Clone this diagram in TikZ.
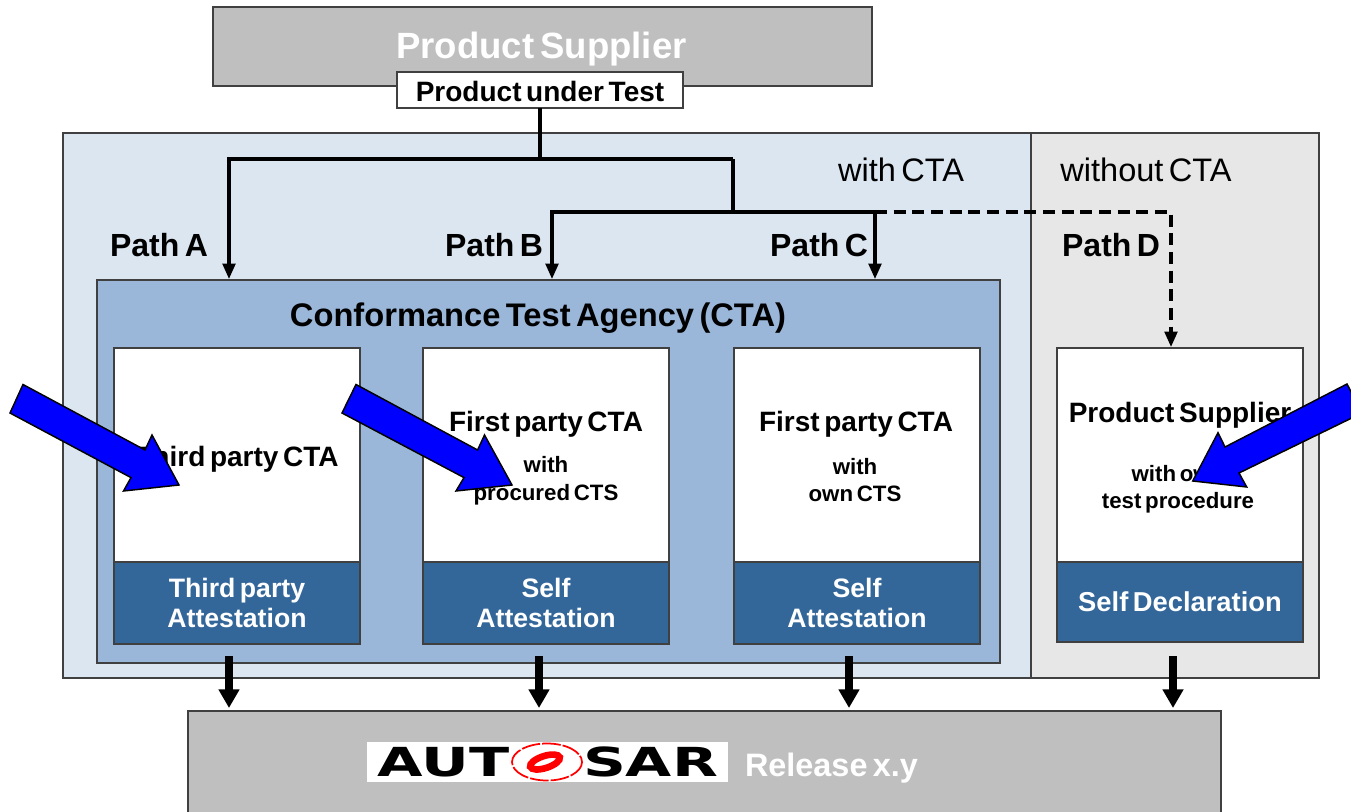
\documentclass[tikz,border=0pt]{standalone}
\usepackage{fontspec}
\setmainfont[WordSpace=0.6]{Liberation Sans}
\newfontfamily\logofont{DejaVu Sans}[BoldFont={DejaVu Sans Bold}]
\usetikzlibrary{arrows.meta}
\def\un{0.75pt}
\newcommand{\fs}[1]{\fontsize{#1}{#1}\selectfont}
\definecolor{cLight}{HTML}{DCE6F1}
\definecolor{cGrayL}{HTML}{E7E7E7}
\definecolor{cMid}{HTML}{9AB6D8}
\definecolor{cDark}{HTML}{336699}
\definecolor{cGray}{HTML}{BFBFBF}
\definecolor{cEdge}{HTML}{404040}
\tikzset{
  box/.style={draw=cEdge,line width=1pt,inner sep=0pt,outer sep=0pt},
  whitebox/.style={box,fill=white},
  darkbox/.style={box,fill=cDark,text=white,align=center,font=\bfseries\fs{20}},
  pathlabel/.style={inner sep=0pt,font=\bfseries\fs{24}},
  zonelabel/.style={inner sep=0pt,font=\fs{24.4}},
  title/.style={inner sep=0pt,font=\bfseries\fs{21}},
  sub/.style={inner sep=0pt,align=center,font=\bfseries\fs{16.7}},
  flowhead/.style={-{Triangle[length=11.5pt,width=9.5pt]}},
  flow/.style={line width=2.3pt,flowhead},
  flowplain/.style={line width=2.3pt},
  flowheavy/.style={line width=3.6pt},
  flowdash/.style={line width=2.3pt,dash pattern=on 9pt off 5pt,flowhead},
  fat/.style={line width=6.2pt,-{Triangle[length=14pt,width=15pt]}},
  callout/.style={draw=black,fill=blue,line width=1.1pt,line join=miter},
  logotext/.style={inner sep=0pt,font=\logofont\bfseries\fs{30}},
}
\begin{document}
\begin{tikzpicture}[x=\un,y=-\un]
\useasboundingbox (0,0) rectangle (1351,812);
\clip (0,0) rectangle (1351,812);
% zones
\node[box,fill=cLight,minimum width=968*\un,minimum height=545*\un] (with) at (547,405.5) {};
\node[box,fill=cGrayL,minimum width=288*\un,minimum height=545*\un] (without) at (1175,405.5) {};
\node[box,fill=cMid,minimum width=903*\un,minimum height=383*\un] (cta) at (548.5,471.5) {};
% top
\node[box,fill=cGray,minimum width=659*\un,minimum height=79*\un] (supplier) at (542.5,46.5) {};
\node[inner sep=0pt,text=white,font=\bfseries\fs{27.4}] (suppliertext) at (541.5,49.5) {Product Supplier};
\node[whitebox,minimum width=286*\un,minimum height=36*\un] (put) at (540,90) {};
\node[inner sep=0pt,font=\bfseries\fs{21}] (puttext) at (540,91) {Product under Test};
% bottom
\node[box,fill=cGray,minimum width=1033*\un,minimum height=110*\un] (release) at (704.5,766) {};
\node[inner sep=0pt,text=white,font=\bfseries\fs{24.3}] (releasetext) at (831.5,768) {Release x.y};
% logo
\node[fill=white,inner sep=0pt,minimum width=361*\un,minimum height=40*\un] (logo) at (547.5,762) {};
\node[logotext,xscale=1.47] (aut) at (443.5,762) {AUT};
\node[logotext,xscale=1.49] (sar) at (650.5,762) {SAR};
\draw[red,line width=1.3pt,dash pattern=on 14pt off 1.5pt] (547,762) ellipse[x radius=35,y radius=18.5];
\draw[red,line width=5pt,rotate around={18:(545,762)}] (545,762) ellipse[x radius=15.5,y radius=6];
% inner boxes
\node[whitebox,minimum width=246*\un,minimum height=214*\un] (a) at (237,455) {};
\node[whitebox,minimum width=246*\un,minimum height=214*\un] (b) at (546,455) {};
\node[whitebox,minimum width=246*\un,minimum height=214*\un] (c) at (857,455) {};
\node[whitebox,minimum width=246*\un,minimum height=214*\un] (d) at (1180,455) {};
\node[darkbox,minimum width=246*\un,minimum height=82*\un] (as) at (237,603) {Third party\\[3pt]Attestation};
\node[darkbox,minimum width=246*\un,minimum height=82*\un] (bs) at (546,603) {Self\\[3pt]Attestation};
\node[darkbox,minimum width=246*\un,minimum height=82*\un] (cs) at (857,603) {Self\\[3pt]Attestation};
\node[darkbox,minimum width=246*\un,minimum height=80*\un,font=\bfseries\fs{20.5}] (ds) at (1180,602) {\raisebox{-1pt}{Self Declaration}};
% labels
\node[zonelabel] (lwith) at (901,170) {with CTA};
\node[zonelabel] (lwithout) at (1146,170) {without CTA};
\node[pathlabel] (pa) at (159,245) {Path A};
\node[pathlabel] (pb) at (494,245) {Path B};
\node[pathlabel] (pc) at (819,245) {Path C};
\node[pathlabel] (pd) at (1111,245) {Path D};
\node[inner sep=0pt,font=\bfseries\fs{24.5}] (ctat) at (538,318) {Conformance Test Agency (CTA)};
\node[title] (at) at (237,459) {Third party CTA};
\node[title] (bt) at (546,424) {First party CTA};
\node[title] (ct) at (856,424) {First party CTA};
\node[title] (dt) at (1180,415) {Product Supplier};
\node[sub] (bsub) at (546,481) {with\\[4pt]procured CTS};
\node[sub] (csub) at (855,480) {with\\[4pt]own CTS};
\node[sub] (dsub) at (1178,489) {with own\\[3.5pt]test procedure};
% connectors
\coordinate (j1) at (540,159);
\coordinate (j2) at (733,159);
\coordinate (j3) at (733,212);
\coordinate (j4) at (875,212);
\coordinate (ta) at (229,279);
\coordinate (tb) at (552,279);
\coordinate (tc) at (875,279);
\coordinate (td) at (1171,347);
\draw[flowplain] (put.south) -- (j1);
\draw[flow] (j2) -- (j1) -| (ta);
\draw[flowheavy] (j2) -- (j3);
\draw[flow] (j3) -| (tb);
\draw[flow] (j3) -- (j4) -- (tc);
\draw[flowdash] (j4) -| (td);
\coordinate (o1) at (229,656); \coordinate (r1) at (229,708);
\coordinate (o2) at (539,656); \coordinate (r2) at (539,708);
\coordinate (o3) at (849,656); \coordinate (r3) at (849,708);
\coordinate (o4) at (1173,656); \coordinate (r4) at (1173,708);
\draw[fat] (o1) -- (r1);
\draw[fat] (o2) -- (r2);
\draw[fat] (o3) -- (r3);
\draw[fat] (o4) -- (r4);
% call-outs
\draw[callout] (23,384.5) -- (10,413) -- (131,477.6) -- (123.5,491) -- (179,485) -- (152,435) -- (145,450) -- cycle;
\draw[callout] (356,384.5) -- (342,413) -- (464,477.6) -- (456,491) -- (512,485) -- (484.5,435) -- (477.6,450) -- cycle;
\draw[callout] (1347,384) -- (1362,413) -- (1239,473) -- (1246.7,487) -- (1192.7,481) -- (1218,432.7) -- (1225,447) -- cycle;
\end{tikzpicture}
\end{document}
